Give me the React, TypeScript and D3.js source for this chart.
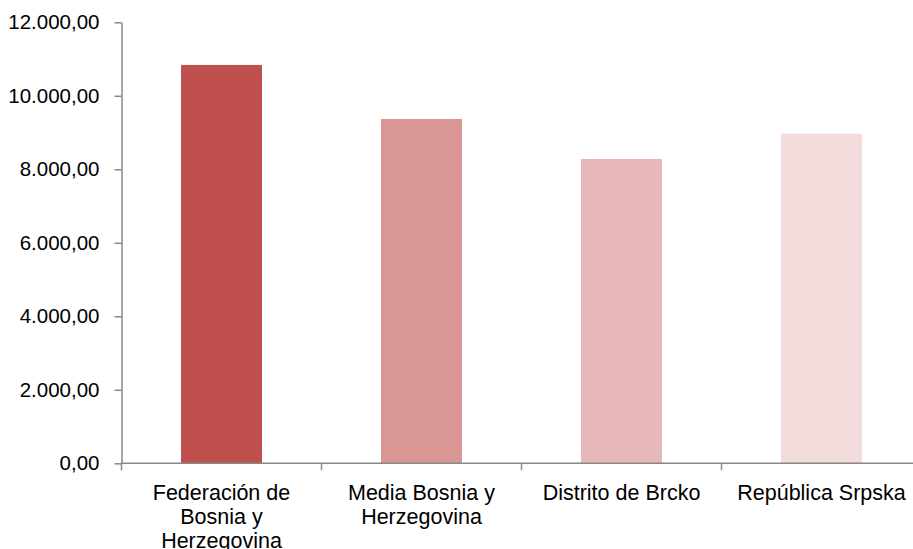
import { useEffect, useRef } from "react"
import * as d3 from "d3"

const categories = [
  "Federación de Bosnia y Herzegovina",
  "Media Bosnia y Herzegovina",
  "Distrito de Brcko",
  "República Srpska",
]
const values = [10840, 9370, 8280, 8970]
const barColors = ["#C0504D", "#D99694", "#E6B9B8", "#F2DCDB"]
const yTicks = [0, 2000, 4000, 6000, 8000, 10000, 12000]

const WIDTH = 913
const HEIGHT = 549
const FONT = "'Liberation Sans', Arial, Helvetica, sans-serif"

const fmt = (v: number) =>
  d3
    .formatLocale({ decimal: ",", thousands: ".", grouping: [3], currency: ["", ""] })
    .format(",.2f")(v)

export default function App() {
  const svgRef = useRef<SVGSVGElement>(null)

  useEffect(() => {
    if (!svgRef.current) return
    const svg = d3.select(svgRef.current)
    svg.selectAll("*").remove()

    const left = 121.5
    const top = 22.3
    const bottom = 463.3

    // the last band runs past the right edge, as in the source picture
    const x = d3
      .scaleBand()
      .domain(categories)
      .range([left, left + 800])
      .paddingInner(0.595)
      .paddingOuter(0.2975)

    const y = d3.scaleLinear().domain([0, 12000]).range([bottom, top])

    // bars
    svg
      .append("g")
      .selectAll("rect")
      .data(values)
      .enter()
      .append("rect")
      .attr("x", (_d, i) => x(categories[i]) || 0)
      .attr("y", (d) => y(d))
      .attr("width", x.bandwidth())
      .attr("height", (d) => bottom - y(d))
      .attr("fill", (_d, i) => barColors[i])

    // y axis
    const yAxis = svg
      .append("g")
      .attr("transform", `translate(${left},0)`)
      .call(
        d3
          .axisLeft(y)
          .tickValues(yTicks)
          .tickSize(7)
          .tickPadding(15)
          .tickSizeOuter(0)
          .tickFormat((d) => fmt(d as number)),
      )
    yAxis.selectAll("text").attr("font-size", "20.5px").attr("font-family", FONT).attr("fill", "#000")

    // x axis: ticks on category boundaries
    const step = x.step()
    const boundaries = d3.range(categories.length).map((i) => left + i * step)
    const xAxis = svg.append("g").attr("transform", `translate(0,${bottom})`)
    xAxis
      .append("line")
      .attr("x1", left)
      .attr("x2", WIDTH)
      .attr("stroke", "#888")
      .attr("stroke-width", 1.5)
    xAxis
      .selectAll(".bt")
      .data(boundaries)
      .enter()
      .append("line")
      .attr("x1", (d) => d)
      .attr("x2", (d) => d)
      .attr("y1", 0)
      .attr("y2", 7)
      .attr("stroke", "#888")
      .attr("stroke-width", 1.5)

    const labels = xAxis
      .selectAll(".lbl")
      .data(categories)
      .enter()
      .append("text")
      .attr("x", (d) => (x(d) || 0) + x.bandwidth() / 2)
      .attr("y", 21)
      .attr("text-anchor", "middle")
      .attr("font-size", "21.5px")
      .attr("font-family", FONT)
      .attr("fill", "#000")
      .text((d) => d)

    // wrap the category labels
    labels.each(function () {
      const text = d3.select(this)
      const words = text.text().split(/\s+/)
      const cx = text.attr("x")
      text.text(null)
      let line: string[] = []
      let tspan = text.append("tspan").attr("x", cx).attr("dy", "0.71em")
      for (const w of words) {
        line.push(w)
        tspan.text(line.join(" "))
        if ((tspan.node() as SVGTSpanElement).getComputedTextLength() > 180 && line.length > 1) {
          line.pop()
          tspan.text(line.join(" "))
          line = [w]
          tspan = text.append("tspan").attr("x", cx).attr("dy", "1.12em").text(w)
        }
      }
    })

    svg.selectAll(".domain").attr("stroke", "#888").attr("stroke-width", 1.5)
    svg.selectAll(".tick line").attr("stroke", "#888").attr("stroke-width", 1.5)
  }, [])

  return (
    <svg
      ref={svgRef}
      width={WIDTH}
      height={HEIGHT}
      style={{ position: "absolute", left: 0, top: 0, background: "#fff" }}
    />
  )
}
